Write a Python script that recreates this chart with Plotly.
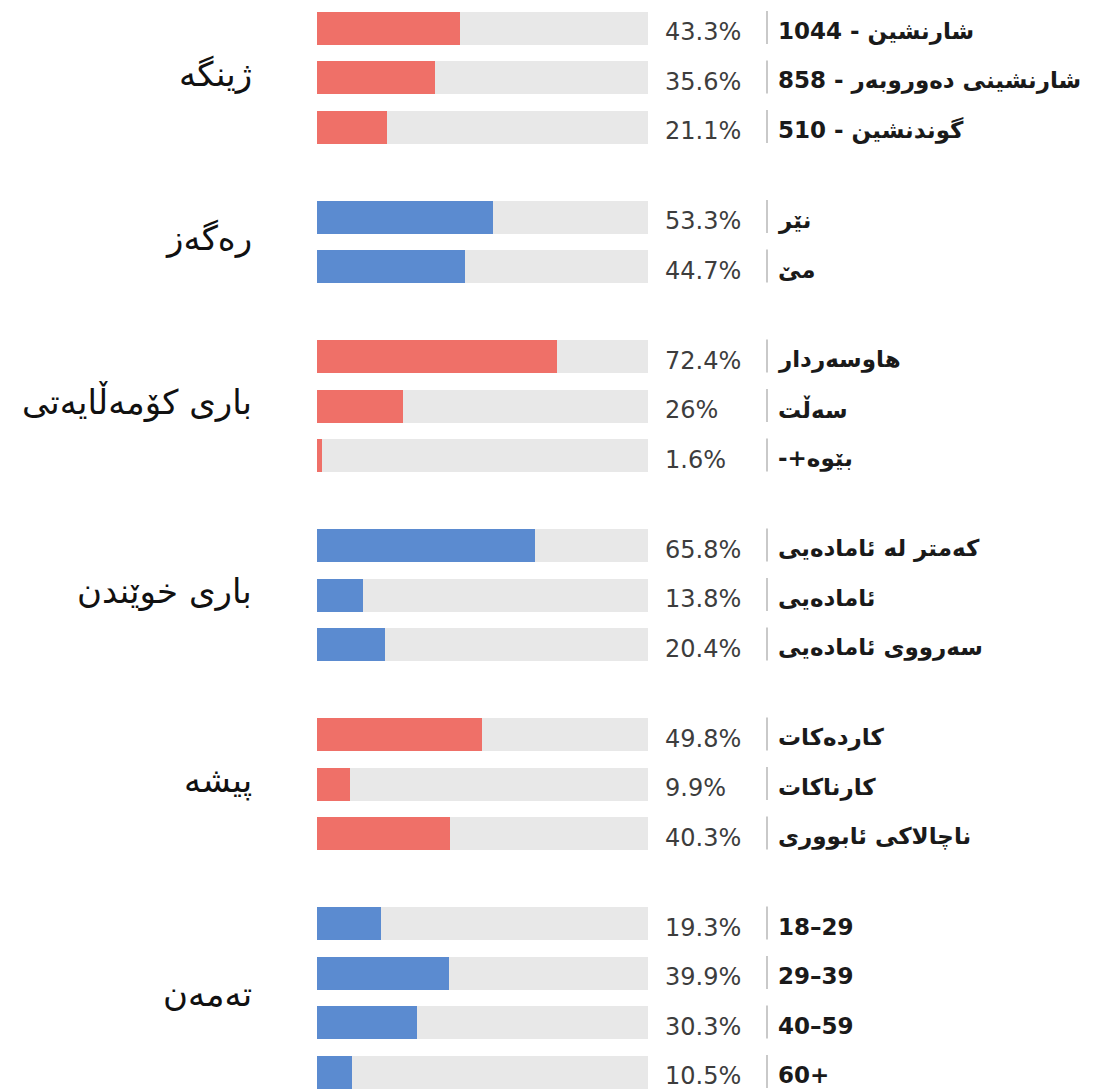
import plotly.graph_objects as go

# ---- data ----
group_names = ["ژینگە", "رەگەز", "باری کۆمەڵایەتی", "باری خوێندن", "پیشە", "تەمەن"]
env_labels = ["شارنشین - 1044", "شارنشینی دەوروبەر - 858", "گوندنشین - 510"]
env_values = [43.3, 35.6, 21.1]
gender_labels = ["نێر", "مێ"]
gender_values = [53.3, 44.7]
social_labels = ["هاوسەردار", "سەڵت", "بێوە+-\u200f"]
social_values = [72.4, 26, 1.6]
edu_labels = ["کەمتر لە ئامادەیی", "ئامادەیی", "سەرووی ئامادەیی"]
edu_values = [65.8, 13.8, 20.4]
job_labels = ["کاردەکات", "کارناکات", "ناچالاکی ئابووری"]
job_values = [49.8, 9.9, 40.3]
age_labels = ["18–29", "29–39", "40–59", "60+"]
age_values = [19.3, 39.9, 30.3, 10.5]

groups = [
    (group_names[0], env_labels, env_values),
    (group_names[1], gender_labels, gender_values),
    (group_names[2], social_labels, social_values),
    (group_names[3], edu_labels, edu_values),
    (group_names[4], job_labels, job_values),
    (group_names[5], age_labels, age_values),
]

# ---- layout constants (page pixels; the page body has an 8px margin) ----
OFF = 8
W, H = 1095 - OFF, 1091 - OFF
TOP = 28.0 - OFF
PITCH = 49.5
GROUP_EXTRA = 40.5
BAR_H = 33
TRACK_X0, TRACK_X1 = 317 - OFF, 648 - OFF   # pixel span of 0..100
PCT_X = 663 - OFF
SEP_X = 767 - OFF
LAB_X = 776 - OFF
GRP_X = 254 - OFF
RED, BLUE, TRACK = "#ef7068", "#5b8bd0", "#e8e8e8"
px_per_unit = (TRACK_X1 - TRACK_X0) / 100.0

fig = go.Figure()
annotations = []
shapes = []

row = 0
for gi, (gname, labels, values) in enumerate(groups):
    color = RED if gi % 2 == 0 else BLUE
    ys = [TOP + (row + j) * PITCH + gi * GROUP_EXTRA for j in range(len(values))]
    row += len(values)
    fig.add_trace(go.Bar(x=[100] * len(values), y=ys, orientation="h", width=BAR_H,
                         marker=dict(color=TRACK, line=dict(width=0)),
                         showlegend=False, hoverinfo="skip"))
    fig.add_trace(go.Bar(x=values, y=ys, orientation="h", width=BAR_H,
                         marker=dict(color=color, line=dict(width=0)),
                         showlegend=False, name=gname,
                         hovertemplate="%{x}%<extra></extra>"))
    for lab, v, y in zip(labels, values, ys):
        annotations.append(dict(x=PCT_X / W, xref="paper", y=y + 4, yref="y", text=f"{v:g}%",
                                xanchor="left", yanchor="middle", showarrow=False,
                                font=dict(family="DejaVu Sans", size=24, color="#3d3d3d")))
        annotations.append(dict(x=LAB_X / W, xref="paper", y=y + 3, yref="y", text=f"<b>{lab}</b>",
                                xanchor="left", yanchor="middle", showarrow=False,
                                font=dict(family="DejaVu Sans", size=23, color="#1a1a1a")))
        shapes.append(dict(type="line", xref="paper", yref="y", x0=SEP_X / W, x1=SEP_X / W,
                           y0=y - 17, y1=y + 16, line=dict(color="#c9c9c9", width=2)))
    annotations.append(dict(x=GRP_X / W, xref="paper", y=(ys[0] + ys[-1]) / 2 - 4, yref="y",
                            text=gname, xanchor="right", yanchor="middle", showarrow=False,
                            font=dict(family="DejaVu Sans", size=34, color="#111111")))

fig.update_layout(
    width=W, height=H, margin=dict(l=0, r=0, t=0, b=0),
    paper_bgcolor="white", plot_bgcolor="white",
    barmode="overlay", bargap=0,
    xaxis=dict(range=[-TRACK_X0 / px_per_unit, (W - TRACK_X0) / px_per_unit],
               visible=False, fixedrange=True),
    yaxis=dict(range=[H, 0], visible=False, fixedrange=True),
    annotations=annotations, shapes=shapes,
)

fig.write_html("out.html")
